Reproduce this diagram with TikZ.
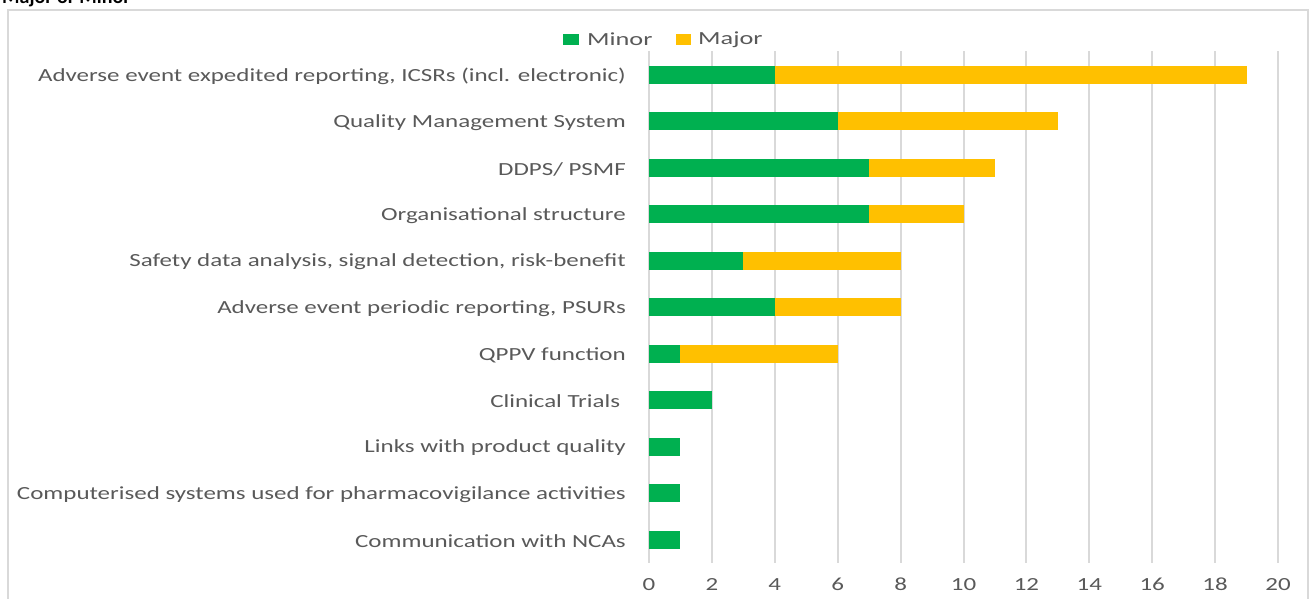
\documentclass[tikz,border=0pt]{standalone}
\usepackage{graphicx}
\usepackage{fontspec}
\setmainfont{Carlito}
\definecolor{mgreen}{HTML}{00B050}
\definecolor{myellow}{HTML}{FFC000}
\definecolor{gridc}{HTML}{D9D9D9}
\definecolor{txtc}{HTML}{595959}
\newcommand{\wide}[1]{\scalebox{1.35}[1]{#1}}
\tikzset{
  catlabel/.style={anchor=east, inner sep=0pt, text=txtc, font=\fontsize{18.5}{20}\selectfont},
  ticklabel/.style={anchor=center, inner sep=0pt, text=txtc, font=\fontsize{18.5}{20}\selectfont},
  legtext/.style={anchor=west, inner sep=0pt, text=txtc, font=\fontsize{18.5}{20}\selectfont},
  gridline/.style={draw=gridc, line width=2pt},
  minorbar/.style={fill=mgreen},
  majorbar/.style={fill=myellow},
}
\begin{document}
\begin{tikzpicture}[x=1pt,y=-1pt]
\useasboundingbox (0,0) rectangle (1314,598);
\clip (0,0) rectangle (1314,598);
% cut-off title
\node[anchor=base west, inner sep=0pt, font=\fontsize{20}{22}\selectfont\bfseries] (title) at (2,3) {Major or Minor};
% frame
\draw[draw=gridc, line width=2.2pt] (8,10) rectangle (1308,620);
% gridlines and ticks
\foreach \v in {0,2,...,20}{
  \draw[gridline] ({649+\v*31.45},51) -- ({649+\v*31.45},563);
  \node[ticklabel] (tick\v) at ({649+\v*31.45},584.5) {\wide{\v}};
}
% bars
\foreach \lab/\mi/\ma [count=\i] in {
  {Adverse event expedited reporting, ICSRs (incl. electronic)}/4/15,
  {Quality Management System}/6/7,
  {DDPS/ PSMF}/7/4,
  {Organisational structure}/7/3,
  {Safety data analysis, signal detection, risk-benefit}/3/5,
  {Adverse event periodic reporting, PSURs}/4/4,
  {QPPV function}/1/5,
  {Clinical Trials\ }/2/0,
  {Links with product quality}/1/0,
  {Computerised systems used for pharmacovigilance activities}/1/0,
  {Communication with NCAs}/1/0}{
  \pgfmathsetmacro{\yc}{74.5+(\i-1)*46.5}
  \node[catlabel] (cat\i) at (626,\yc+1.5) {\wide{\lab}};
  \fill[minorbar] (649,\yc-9) rectangle ({649+\mi*31.45},\yc+9);
  \ifnum\ma>0
    \fill[majorbar] ({649+\mi*31.45},\yc-9) rectangle ({649+(\mi+\ma)*31.45},\yc+9);
  \fi
}
% legend
\fill[mgreen] (563,34) rectangle (579,45);
\node[legtext] (legminor) at (587,39.5) {\scalebox{1.42}[1]{Minor}};
\fill[myellow] (676,34) rectangle (691,45);
\node[legtext] (legmajor) at (698,39.5) {\scalebox{1.42}[1]{Major}};
\end{tikzpicture}
\end{document}
